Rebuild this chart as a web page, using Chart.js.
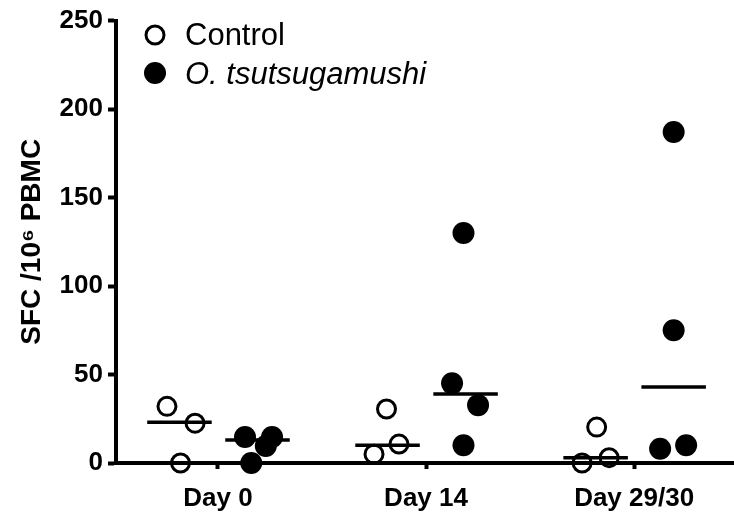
<!DOCTYPE html>
<html>
<head>
<meta charset="utf-8">
<script src="https://cdn.jsdelivr.net/npm/chart.js@4"></script>
<style>
  html, body { margin: 0; padding: 0; background: #fff; overflow: hidden; }
  #wrap { position: relative; width: 734px; height: 516px; }
  #chart { display: block; }
</style>
</head>
<body>
<div id="wrap"><canvas id="chart"></canvas></div>
<script>
// Chart data
const days = ['Day 0', 'Day 14', 'Day 29/30'];
const yTicks = [0, 50, 100, 150, 200, 250];

// SFC per 10^6 PBMC, one list per day
const controlValues = [[32, 22.5, 0], [30.5, 10.7, 5], [20.3, 0, 3]];
const infectedValues = [[14.7, 14.7, 9.6, 0], [130, 45, 32.7, 10], [187, 75, 8, 10]];
// horizontal offset of each point from its day (scatter spread)
const controlSpread = [[-0.245, -0.11, -0.18], [-0.19, -0.13, -0.25], [-0.18, -0.25, -0.12]];
const infectedSpread = [[0.13, 0.26, 0.23, 0.16], [0.18, 0.125, 0.25, 0.18], [0.19, 0.19, 0.125, 0.25]];
// group medians
const controlMedian = [23, 10, 3];
const infectedMedian = [13, 39, 43];

const FONT = "'Liberation Sans', Arial, sans-serif";

function points(values, spread) {
    const out = [];
    values.forEach((list, i) => {
        list.forEach((v, j) => out.push({ x: i + spread[i][j], y: v }));
    });
    return out;
}

const datasets = [
    {
        label: 'Control',
        data: points(controlValues, controlSpread),
        pointRadius: 9,
        pointBorderWidth: 3,
        pointBorderColor: '#000',
        pointBackgroundColor: 'rgba(0,0,0,0)',
        showLine: false,
        clip: false
    },
    {
        label: 'O. tsutsugamushi',
        data: points(infectedValues, infectedSpread),
        pointRadius: 11,
        pointBorderWidth: 0,
        pointBackgroundColor: '#000',
        showLine: false,
        clip: false
    }
];

// median bars
days.forEach((d, i) => {
    datasets.push({
        type: 'line',
        data: [{ x: i - 0.34, y: controlMedian[i] }, { x: i - 0.03, y: controlMedian[i] }],
        borderColor: '#000', borderWidth: 3.5, pointRadius: 0, clip: false
    });
    datasets.push({
        type: 'line',
        data: [{ x: i + 0.035, y: infectedMedian[i] }, { x: i + 0.345, y: infectedMedian[i] }],
        borderColor: '#000', borderWidth: 3.5, pointRadius: 0, clip: false
    });
});

// Legend in the upper left corner of the plot
const legendPlugin = {
    id: 'insideLegend',
    afterDraw(chart) {
        const c = chart.ctx;
        c.save();
        c.strokeStyle = '#000';
        c.fillStyle = '#000';
        c.lineWidth = 3;
        c.beginPath();
        c.arc(155, 35, 9, 0, Math.PI * 2);
        c.stroke();
        c.beginPath();
        c.arc(155, 73, 11, 0, Math.PI * 2);
        c.fill();
        c.textBaseline = 'middle';
        c.font = '31px ' + FONT;
        c.fillText(datasets[0].label, 185, 36);
        c.font = 'italic 31px ' + FONT;
        c.fillText(datasets[1].label, 185, 75);
        c.restore();
    }
};

const ctx = document.getElementById('chart').getContext('2d');
new Chart(ctx, {
    type: 'scatter',
    data: { datasets },
    options: {
        responsive: true,
        maintainAspectRatio: false,
        animation: false,
        layout: { autoPadding: false, padding: { top: 20, right: 0, left: 0, bottom: 0 } },
        plugins: {
            legend: { display: false },
            tooltip: { enabled: false }
        },
        scales: {
            x: {
                type: 'linear',
                min: -0.49,
                max: 2.48,
                afterBuildTicks: s => { s.ticks = days.map((d, i) => ({ value: i })); },
                afterFit: s => { s.height = 53; },
                border: { color: '#000', width: 4 },
                grid: { drawOnChartArea: false, color: '#000', tickLength: 6, tickWidth: 4 },
                ticks: {
                    color: '#000',
                    padding: 14,
                    font: { family: FONT, size: 26, weight: 'bold' },
                    callback: v => days[v]
                }
            },
            y: {
                min: 0,
                max: 250,
                afterBuildTicks: s => { s.ticks = yTicks.map(v => ({ value: v })); },
                afterFit: s => { s.width = 116; },
                border: { color: '#000', width: 4 },
                grid: { drawOnChartArea: false, color: '#000', tickLength: 8, tickWidth: 4 },
                ticks: {
                    color: '#000',
                    padding: 5,
                    font: { family: FONT, size: 26, weight: 'bold' }
                },
                title: {
                    display: true,
                    text: 'SFC /10\u2076 PBMC',
                    color: '#000',
                    padding: { top: 15, bottom: 0 },
                    font: { family: FONT, size: 28, weight: 'bold' }
                }
            }
        }
    },
    plugins: [legendPlugin]
});
</script>
</body>
</html>
